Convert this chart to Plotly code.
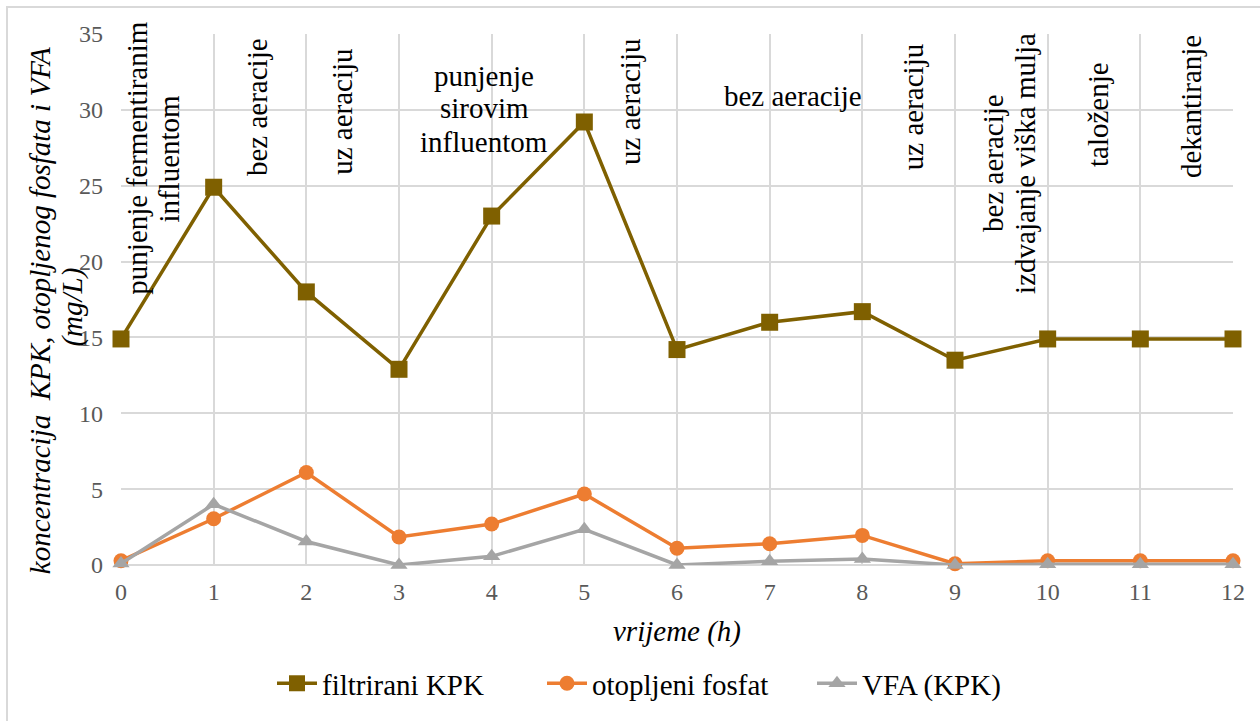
import plotly.graph_objects as go

# Sampling times (h)
hours = [0, 1, 2, 3, 4, 5, 6, 7, 8, 9, 10, 11, 12]

# Measured concentrations (mg/L)
filtrirani_kpk = [14.9, 24.9, 18.0, 12.9, 23.0, 29.2, 14.2, 16.0, 16.7, 13.5, 14.9, 14.9, 14.9]
otopljeni_fosfat = [0.28, 3.05, 6.1, 1.85, 2.7, 4.68, 1.1, 1.4, 1.95, 0.08, 0.28, 0.28, 0.28]
vfa_kpk = [0.1, 4.0, 1.55, 0.0, 0.57, 2.35, 0.0, 0.25, 0.4, 0.0, 0.05, 0.05, 0.05]

y_ticks = [0, 5, 10, 15, 20, 25, 30, 35]

# Process phase labels, one entry per text line: (text, x, y, angle)
phase_lines = [
    ("punjenje fermentiranim", 0.175, 26.8, -90),
    ("influentom", 0.52, 26.8, -90),
    ("bez aeracije", 1.47, 30.2, -90),
    ("uz aeraciju", 2.39, 29.9, -90),
    ("punjenje", 3.92, 32.2, 0),
    ("sirovim", 3.92, 30.1, 0),
    ("influentom", 3.92, 27.9, 0),
    ("uz aeraciju", 5.5, 30.5, -90),
    ("bez aeracije", 7.25, 30.9, 0),
    ("uz aeraciju", 8.54, 30.2, -90),
    ("bez aeracije", 9.41, 26.5, -90),
    ("izdvajanje viška mulja", 9.755, 26.5, -90),
    ("taloženje", 10.55, 29.7, -90),
    ("dekantiranje", 11.55, 30.2, -90),
]

SERIF = "Liberation Serif"
FS = 29

fig = go.Figure()
fig.add_trace(go.Scatter(
    x=hours, y=filtrirani_kpk, name="filtrirani KPK", mode="lines+markers",
    line=dict(color="#7F6000", width=3.5),
    marker=dict(symbol="square", size=17, color="#7F6000"),
    cliponaxis=False,
))
fig.add_trace(go.Scatter(
    x=hours, y=otopljeni_fosfat, name="otopljeni fosfat", mode="lines+markers",
    line=dict(color="#ED7D31", width=3.5),
    marker=dict(symbol="circle", size=15, color="#ED7D31"),
    cliponaxis=False,
))
fig.add_trace(go.Scatter(
    x=hours, y=vfa_kpk, name="VFA (KPK)", mode="lines+markers",
    line=dict(color="#A5A5A5", width=3.5),
    marker=dict(symbol="triangle-up", size=15, color="#A5A5A5"),
    cliponaxis=False,
))

annotations = []
for text, x, y, ang in phase_lines:
    annotations.append(dict(
        text=text, x=x, y=y, xref="x", yref="y", showarrow=False,
        textangle=ang, xanchor="center", yanchor="middle",
        font=dict(family=SERIF, size=FS, color="#000000"),
    ))

# y-axis title, two lines
annotations.append(dict(
    text="<i>koncentracija  KPK, otopljenog fosfata i VFA</i>",
    x=-0.0728, y=0.478, xref="paper", yref="paper", showarrow=False,
    textangle=-90, xanchor="center", yanchor="middle",
    font=dict(family=SERIF, size=FS, color="#000000"),
))
annotations.append(dict(
    text="<i>(mg/L)</i>",
    x=-0.044, y=0.485, xref="paper", yref="paper", showarrow=False,
    textangle=-90, xanchor="center", yanchor="middle",
    font=dict(family=SERIF, size=FS, color="#000000"),
))
# x-axis title
annotations.append(dict(
    text="<i>vrijeme (h)</i>",
    x=0.5, y=-0.126, xref="paper", yref="paper", showarrow=False,
    xanchor="center", yanchor="middle",
    font=dict(family=SERIF, size=FS, color="#000000"),
))

fig.update_layout(
    width=1260, height=721,
    margin=dict(l=121, r=27, t=34, b=154),
    paper_bgcolor="white", plot_bgcolor="white",
    font=dict(family=SERIF, color="#000000"),
    showlegend=True,
    legend=dict(
        orientation="h", x=0.5, xanchor="center", y=-0.223, yanchor="middle",
        font=dict(family=SERIF, size=FS, color="#000000"),
        itemwidth=40, entrywidth=215,
    ),
    annotations=annotations,
    shapes=[dict(
        type="rect", xref="paper", yref="paper",
        x0=-0.1025, y0=-0.30, x1=1.04, y1=1.0507,
        line=dict(color="#D9D9D9", width=2), fillcolor="rgba(0,0,0,0)",
        layer="below",
    )],
)

fig.update_xaxes(
    range=[0, 12], tickvals=hours, showgrid=True, gridcolor="#D9D9D9", gridwidth=2,
    zeroline=False, showline=False, ticks="",
    tickfont=dict(family=SERIF, size=24, color="#595959"),
    ticklabelstandoff=10,
)
fig.update_yaxes(
    range=[0, 35], tickvals=y_ticks, showgrid=True, gridcolor="#D9D9D9", gridwidth=2,
    zeroline=True, zerolinecolor="#D9D9D9", zerolinewidth=2, showline=False, ticks="",
    tickfont=dict(family=SERIF, size=24, color="#595959"),
    ticklabelstandoff=17,
)

fig.write_html("out.html")
